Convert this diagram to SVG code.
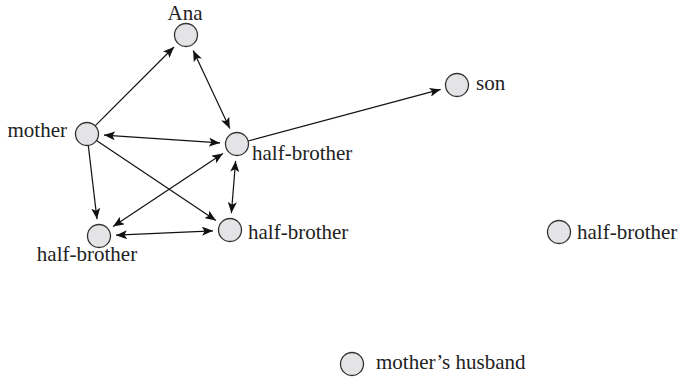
<svg xmlns="http://www.w3.org/2000/svg" width="680" height="384" viewBox="0 0 680 384">
  <defs>
    <marker id="arrow" viewBox="0 0 11 9" markerWidth="11" markerHeight="9" refX="11" refY="4.5" markerUnits="userSpaceOnUse" orient="auto-start-reverse">
      <path d="M0,0 L11,4.5 L0,9 L2.5,4.5 Z" fill="#111"/>
    </marker>
  </defs>
  <style>
    .node circle { fill: #e4e4e6; stroke: #333; stroke-width: 1.3; }
    .node text { font-size: 21px; fill: #222; }
    .edge { stroke: #111; stroke-width: 1.2; fill: none; }
    .one { marker-end: url(#arrow); }
    .both { marker-start: url(#arrow); marker-end: url(#arrow); }
  </style>
  <rect width="680" height="384" fill="#ffffff"/>

  <g id="connectors">
    <line class="edge one" x1="95.1" y1="125.9" x2="174.0" y2="47.0"/>
    <line class="edge both" x1="193.2" y1="50.4" x2="229.8" y2="128.6"/>
    <line class="edge both" x1="104.0" y1="135.1" x2="220.0" y2="142.9"/>
    <line class="edge one" x1="88.3" y1="145.4" x2="97.0" y2="219.1"/>
    <line class="edge one" x1="96.5" y1="140.4" x2="215.9" y2="220.5"/>
    <line class="edge both" x1="222.9" y1="153.4" x2="113.1" y2="226.6"/>
    <line class="edge both" x1="235.6" y1="160.9" x2="231.4" y2="213.1"/>
    <line class="edge both" x1="116.0" y1="235.2" x2="213.0" y2="230.8"/>
    <line class="edge one" x1="248.1" y1="141.0" x2="440.6" y2="89.4"/>
  </g>

  <g id="nodes" font-family="'Liberation Serif', 'DejaVu Serif', serif">
    <g id="ana" class="node">
      <circle cx="186" cy="35" r="11.5"/>
      <text x="185" y="20" text-anchor="middle" font-family="'Liberation Serif', serif">Ana</text>
    </g>
    <g id="mother" class="node">
      <circle cx="87" cy="134" r="11.5"/>
      <text x="67" y="137" text-anchor="end" font-family="'Liberation Serif', serif">mother</text>
    </g>
    <g id="half-brother-1" class="node">
      <circle cx="237" cy="144" r="11.5"/>
      <text x="252" y="160" font-family="'Liberation Serif', serif">half-brother</text>
    </g>
    <g id="half-brother-2" class="node">
      <circle cx="99" cy="236" r="11.5"/>
      <text x="87" y="261" text-anchor="middle" font-family="'Liberation Serif', serif">half-brother</text>
    </g>
    <g id="half-brother-3" class="node">
      <circle cx="230" cy="230" r="11.5"/>
      <text x="248" y="239" font-family="'Liberation Serif', serif">half-brother</text>
    </g>
    <g id="son" class="node">
      <circle cx="457" cy="85" r="11.5"/>
      <text x="476" y="90" font-family="'Liberation Serif', serif">son</text>
    </g>
    <g id="half-brother-4" class="node">
      <circle cx="559" cy="232" r="11.5"/>
      <text x="577" y="239" font-family="'Liberation Serif', serif">half-brother</text>
    </g>
    <g id="mothers-husband" class="node">
      <circle cx="352" cy="364" r="11.5"/>
      <text x="376" y="369" font-family="'Liberation Serif', serif">mother’s husband</text>
    </g>
  </g>
</svg>
